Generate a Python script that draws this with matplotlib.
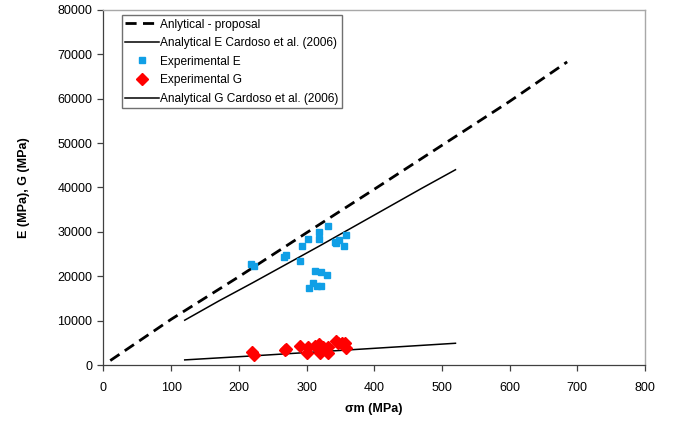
import matplotlib
matplotlib.use("Agg")
import matplotlib.pyplot as plt

plt.rcParams['font.family'] = ['Liberation Sans', 'DejaVu Sans']

# Analytical - proposal (dashed)
prop_sigma = [10, 100, 200, 300, 400, 500, 600, 685]
prop_E = [1000, 10300, 19900, 29800, 39600, 49500, 59400, 68300]

# Analytical E Cardoso et al. (2006)
card_E_sigma = [120, 170, 220, 270, 320, 370, 420, 470, 520]
card_E = [10100, 14400, 18500, 22700, 26900, 31200, 35500, 39800, 44000]

# Analytical G Cardoso et al. (2006)
card_G_sigma = [120, 220, 320, 420, 520]
card_G = [1150, 2050, 3000, 3950, 4900]

# Experimental E
expE_sigma = [218, 223, 266, 270, 290, 294, 302, 319, 319, 332, 313, 321, 330,
              310, 315, 322, 303, 342, 348, 344, 358, 356]
expE = [22700, 22200, 24400, 24700, 23400, 26800, 28300, 30000, 28400, 31300,
        21200, 21000, 20200, 18500, 17900, 17900, 17400, 27700, 28200, 27400,
        29300, 26900]

# Experimental G
expG_sigma = [219, 223, 268, 270, 290, 301, 302, 312, 319, 320, 325, 331, 332,
              343, 346, 352, 357, 359]
expG = [3000, 2250, 3400, 3500, 4300, 2650, 4000, 4300, 4750, 2800, 4150,
        4150, 2800, 5500, 4900, 5050, 4900, 3750]

xticks = [0, 100, 200, 300, 400, 500, 600, 700, 800]
yticks = [0, 10000, 20000, 30000, 40000, 50000, 60000, 70000, 80000]

fig = plt.figure(figsize=(6.8, 4.23), dpi=100)
ax = fig.add_axes([0.1522, 0.1371, 0.7963, 0.8393])

ax.plot(prop_sigma, prop_E, color='black', lw=2.0, linestyle=(0, (4, 2.3)),
        label='Anlytical - proposal', zorder=3)
ax.plot(card_E_sigma, card_E, color='black', lw=1.1,
        label='Analytical E Cardoso et al. (2006)', zorder=3)
ax.plot(expE_sigma, expE, linestyle='none', marker='s', ms=4.3,
        color='#109fe6', mec='#109fe6', label='Experimental E', zorder=4)
ax.plot(expG_sigma, expG, linestyle='none', marker='D', ms=6.5,
        color='#ff0000', mec='#ff0000', label='Experimental G', zorder=4)
ax.plot(card_G_sigma, card_G, color='black', lw=1.1,
        label='Analytical G Cardoso et al. (2006)', zorder=3)

ax.set_xlim(0, 800)
ax.set_ylim(0, 80000)
ax.set_xticks(xticks)
ax.set_yticks(yticks)
ax.set_xticklabels([str(v) for v in xticks])
ax.set_yticklabels([str(v) for v in yticks])
ax.tick_params(axis='both', direction='out', length=4, width=0.9,
               color='#404040', labelsize=9, labelcolor='black')
ax.tick_params(axis='x', pad=8)
ax.tick_params(axis='y', pad=4)

for s in ['left', 'bottom']:
    ax.spines[s].set_color('#404040')
    ax.spines[s].set_linewidth(0.9)
for s in ['top', 'right']:
    ax.spines[s].set_color('#a8a8a8')
    ax.spines[s].set_linewidth(1.0)

ax.set_xlabel('σm (MPa)', fontsize=9, fontweight='bold', labelpad=7)
ax.set_ylabel('E (MPa), G (MPa)', fontsize=9, fontweight='bold', labelpad=20)

leg = ax.legend(loc='upper left', bbox_to_anchor=(0.034, 0.986),
                borderaxespad=0, fontsize=8.6, frameon=True, fancybox=False,
                edgecolor='#707070', handlelength=2.8, handletextpad=0.1,
                labelspacing=0.55, borderpad=0.3, framealpha=1)
leg.get_frame().set_linewidth(1.0)

fig.savefig('out.png', dpi=100)
